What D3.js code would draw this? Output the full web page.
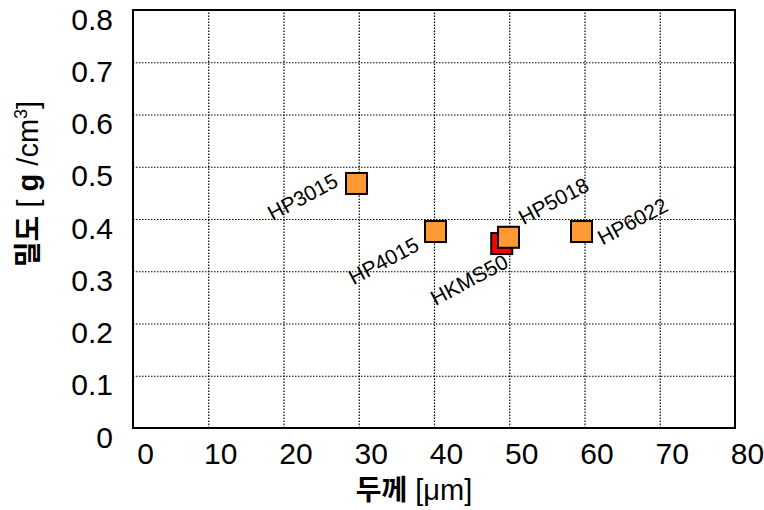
<!DOCTYPE html>
<html>
<head>
    <meta charset="utf-8">
    <script src="https://d3js.org/d3.v7.min.js"></script>
    <style>
        body { margin: 0; background: #fff; }
        .tick text { font-family: "Liberation Sans", Arial, sans-serif; font-size: 30px; fill: #000; }
        .grid line { stroke: #000; stroke-width: 1.2; stroke-dasharray: 1.5,1.5; }
        .grid path { display: none; }
        .lbl { font-family: "Liberation Sans", Arial, sans-serif; font-size: 21px; fill: #000; }
        .title { font-family: "Liberation Sans", Arial, sans-serif; font-size: 29px; fill: #000; }
        .ko { font-family: "Noto Sans CJK KR", sans-serif; font-weight: bold; font-size: 28px; }
    </style>
</head>
<body>
    <svg width="764" height="510"></svg>
    <script>
        // data
        const samples = ["HP3015", "HP4015", "HKMS50", "HP5018", "HP6022"];
        const thickness = [29.7, 40.2, 49.0, 49.9, 59.6];
        const density = [0.468, 0.376, 0.353, 0.365, 0.376];
        const colors = ["#FF9933", "#FF9933", "#FF0000", "#FF9933", "#FF9933"];
        const xTicks = [0, 10, 20, 30, 40, 50, 60, 70, 80];
        const yTicks = [0, 0.1, 0.2, 0.3, 0.4, 0.5, 0.6, 0.7, 0.8];

        const margin = { top: 10, right: 29, bottom: 82, left: 133 };
        const width = 764 - margin.left - margin.right;
        const height = 510 - margin.top - margin.bottom;

        const svg = d3.select("svg")
            .append("g")
            .attr("transform", "translate(" + margin.left + "," + margin.top + ")");

        const x = d3.scaleLinear().domain([0, 80]).range([0, width]);
        const y = d3.scaleLinear().domain([0, 0.8]).range([height, 0]);

        // dotted grid
        svg.append("g").attr("class", "grid")
            .attr("transform", "translate(0," + height + ")")
            .call(d3.axisBottom(x).tickValues(xTicks.slice(1, -1)).tickSize(-height).tickFormat(""));
        svg.append("g").attr("class", "grid")
            .call(d3.axisLeft(y).tickValues(yTicks.slice(1, -1)).tickSize(-width).tickFormat(""));

        // frame
        svg.append("rect")
            .attr("width", width).attr("height", height)
            .attr("fill", "none").attr("stroke", "#000").attr("stroke-width", 2);

        // tick labels (shifted like the original)
        const xAxis = svg.append("g")
            .attr("transform", "translate(0," + height + ")")
            .call(d3.axisBottom(x).tickValues(xTicks).tickSize(0).tickPadding(0).tickFormat(d3.format("d")));
        xAxis.select(".domain").remove();
        xAxis.selectAll("text").attr("dx", 12).attr("dy", 0).attr("y", 36);

        const yAxis = svg.append("g")
            .call(d3.axisLeft(y).tickValues(yTicks).tickSize(0).tickPadding(0)
                .tickFormat(d => d === 0 ? "0" : d3.format(".1f")(d)));
        yAxis.select(".domain").remove();
        yAxis.selectAll("text").attr("x", -20).attr("dy", 0).attr("y", 19);

        const pts = samples.map((s, i) => ({ name: s, x: thickness[i], y: density[i], c: colors[i] }));

        // red one drawn before HP5018 so it sits underneath
        svg.selectAll(".pt")
            .data(pts)
            .enter().append("rect")
            .attr("class", "pt")
            .attr("x", d => x(d.x) - 10.5)
            .attr("y", d => y(d.y) - 10.5)
            .attr("width", 21).attr("height", 21)
            .attr("fill", d => d.c)
            .attr("stroke", "#000").attr("stroke-width", 2);

        // label placement offsets (px) and anchors
        const offs = {
            HP3015: [-17, 2, "end"],
            HP4015: [-15, 18, "end"],
            HKMS50: [8, 23, "end"],
            HP5018: [15, -12, "start"],
            HP6022: [21, 14, "start"]
        };
        svg.selectAll(".lbl")
            .data(pts)
            .enter().append("text")
            .attr("class", "lbl")
            .attr("text-anchor", d => offs[d.name][2])
            .attr("transform", d => "translate(" + (x(d.x) + offs[d.name][0]) + "," + (y(d.y) + offs[d.name][1]) + ") rotate(-28)")
            .text(d => d.name);

        // axis titles
        const xt = d3.select("svg").append("text")
            .attr("class", "title")
            .attr("x", 414).attr("y", 500)
            .attr("text-anchor", "middle");
        xt.append("tspan").attr("class", "ko").text("두께");
        xt.append("tspan").text(" [μm]");

        const yt = d3.select("svg").append("text")
            .attr("class", "title")
            .attr("transform", "translate(38,184) rotate(-90)")
            .attr("text-anchor", "middle");
        yt.append("tspan").attr("class", "ko").text("밀도");
        yt.append("tspan").text(" [ ");
        yt.append("tspan").attr("font-weight", "bold").text("g");
        yt.append("tspan").text(" /cm");
        yt.append("tspan").attr("font-size", "18px").attr("dy", -11).text("3");
        yt.append("tspan").attr("dy", 11).text("]");
    </script>
</body>
</html>
